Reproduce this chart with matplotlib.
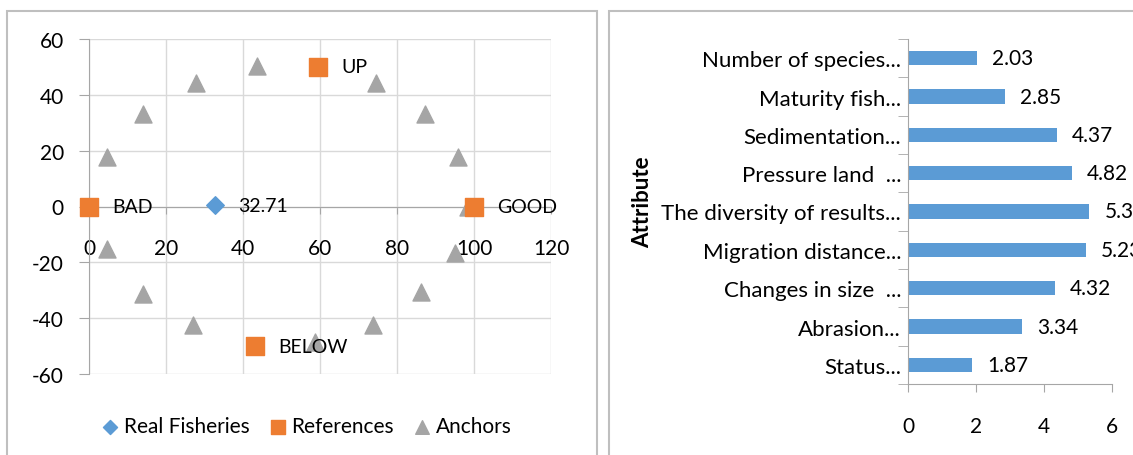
import matplotlib.pyplot as plt
from matplotlib.patches import Rectangle

plt.rcParams['font.family'] = ['Lato', 'DejaVu Sans']
plt.rcParams['axes.unicode_minus'] = False

# scatter (RAPFISH style ordination)
real_x = [32.71]
real_y = [0.5]
real_labels = ['32.71']

ref_x = [0, 100, 59.5, 43]
ref_y = [0, 0, 50, -50]
ref_labels = ['BAD', 'GOOD', 'UP', 'BELOW']

anchor_x = [4.7, 14.0, 27.8, 43.6, 74.5, 87.3, 95.8, 98.4, 95.0, 86.2, 73.8, 58.7, 27.0, 14.0, 4.7]
anchor_y = [17.9, 33.0, 44.4, 50.2, 44.4, 33.3, 17.6, 0.0, -16.5, -30.8, -42.6, -48.4, -42.6, -31.5, -15.4]

# leverage bars
attributes = ['Number of species...', 'Maturity fish...', 'Sedimentation...', 'Pressure land  ...',
              'The diversity of results...', 'Migration distance...', 'Changes in size  ...',
              'Abrasion...', 'Status...']
leverage = [2.03, 2.85, 4.37, 4.82, 5.33, 5.23, 4.32, 3.34, 1.87]

blue = '#5B9BD5'
orange = '#ED7D31'
gray = '#A5A5A5'
axis_gray = '#A6A6A6'
grid_gray = '#D9D9D9'

W, H = 1133, 456
fig = plt.figure(figsize=(W / 100, H / 100), dpi=100)

# panel frames
fig.patches.append(Rectangle((7 / W, -0.1), 590 / W, 1 - 12 / H + 0.1, transform=fig.transFigure,
                             fill=False, edgecolor='#BFBFBF', linewidth=1.5))
fig.patches.append(Rectangle((609 / W, -0.1), 0.6, 1 - 12 / H + 0.1, transform=fig.transFigure,
                             fill=False, edgecolor='#BFBFBF', linewidth=1.5))

# ---- left: scatter ----
ax = fig.add_axes([89 / W, 1 - 375 / H, 462 / W, 335 / H])
ax.scatter(anchor_x, anchor_y, marker='^', s=150, color=gray, zorder=3, label='Anchors', clip_on=False)
ax.scatter(ref_x, ref_y, marker='s', s=170, color=orange, zorder=3, label='References', clip_on=False)
ax.scatter(real_x, real_y, marker='D', s=80, color=blue, zorder=4, label='Real Fisheries', clip_on=False)

for x, y, t in zip(ref_x + real_x, ref_y + real_y, ref_labels + real_labels):
    ax.annotate(t, (x, y), xytext=(17, 0), textcoords='offset points', va='center', ha='left',
                fontsize=14, zorder=5)

ax.set_xlim(0, 120)
ax.set_ylim(-60, 60)
ax.set_xticks(range(0, 121, 20))
ax.set_yticks(range(-60, 61, 20))
ax.grid(color=grid_gray, linewidth=1)
ax.set_axisbelow(True)
ax.spines['bottom'].set_position(('data', 0))
ax.spines['left'].set_position(('data', 0))
for s in ['top', 'right']:
    ax.spines[s].set_visible(False)
for s in ['bottom', 'left']:
    ax.spines[s].set_color(axis_gray)
ax.tick_params(axis='x', length=5, color=axis_gray, labelsize=15, pad=18)
ax.tick_params(axis='y', length=7, color=axis_gray, labelsize=15, pad=11)

h, l = ax.get_legend_handles_labels()
order = [2, 1, 0]
ax.legend([h[i] for i in order], [l[i] for i in order], loc='upper center',
          bbox_to_anchor=(0.47, -0.07), ncol=3, frameon=False, fontsize=15,
          handlelength=0.9, handletextpad=0.2, columnspacing=0.9, markerscale=0.8)

# ---- right: bar chart ----
bx = fig.add_axes([908 / W, 1 - 385 / H, 204 / W, 345 / H])
ypos = list(range(len(attributes)))[::-1]
bars = bx.barh(ypos, leverage, height=0.38, color=blue)
for b, v in zip(bars, leverage):
    bx.text(v + 0.45, b.get_y() + b.get_height() / 2, f'{v:.2f}', va='center', ha='left',
            fontsize=15, clip_on=False)
bx.set_xlim(0, 6)
bx.set_ylim(-0.5, len(attributes) - 0.5)
bx.set_xticks([0, 2, 4, 6])
bx.set_yticks(ypos)
bx.set_yticklabels(attributes)
bx.set_yticks([i - 0.5 for i in range(len(attributes) + 1)], minor=True)
for s in ['top', 'right']:
    bx.spines[s].set_visible(False)
for s in ['bottom', 'left']:
    bx.spines[s].set_color(axis_gray)
bx.tick_params(axis='y', which='major', length=0, labelsize=16, pad=5)
bx.tick_params(axis='y', which='minor', length=7, color=axis_gray)
bx.tick_params(axis='x', length=6, color=axis_gray, labelsize=15, pad=17)
bx.set_ylabel('Attribute', fontsize=16, fontweight='bold', labelpad=0)
bx.yaxis.set_label_coords(-1.25, 0.53)

fig.savefig('out.png', dpi=100)
